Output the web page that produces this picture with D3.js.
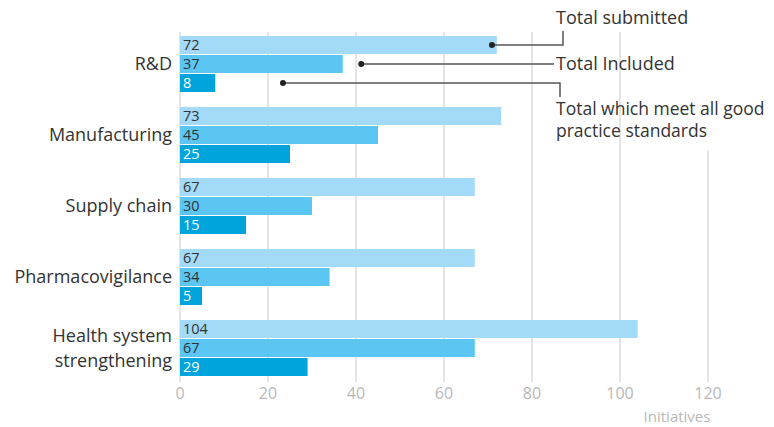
<!DOCTYPE html>
<html><head><meta charset="utf-8">
<script src="https://cdn.jsdelivr.net/npm/d3@7"></script>
<style>body{margin:0;background:#fff}svg{display:block;font-family:"Open Sans",sans-serif}</style>
</head><body>
<svg id="c" width="774" height="427"></svg>
<script>
const categories = ["R&D","Manufacturing","Supply chain","Pharmacovigilance","Health system strengthening"];
const categoryLines = [["R&D"],["Manufacturing"],["Supply chain"],["Pharmacovigilance"],["Health system","strengthening"]];
const seriesNames = ["Total submitted","Total Included","Total which meet all good practice standards"];
const submitted = [72,73,67,67,104];
const included = [37,45,30,34,67];
const meetStandards = [8,25,15,5,29];
const ticks = [0,20,40,60,80,100,120];
const axisTitle = "Initiatives";

const colors = ["#a3daf7","#5bc6f2","#00a4dc"];
const textColors = ["#333","#333","#fff"];
const series = [submitted, included, meetStandards];

const svg = d3.select("#c");
const x = d3.scaleLinear().domain([0,120]).range([180,708]);
const y0 = d3.scaleBand().domain(categories).range([36,391]).paddingInner(0).paddingOuter(0);
const bandH = 18, gap = 1;

// gridlines
svg.append("g").selectAll("line").data(ticks).join("line")
  .attr("x1",d=>x(d)).attr("x2",d=>x(d))
  .attr("y1",d=>d===120?150:32).attr("y2",382)
  .attr("stroke","#dcdcdc").attr("stroke-width",1.5);

// tick labels
svg.append("g").selectAll("text").data(ticks).join("text")
  .attr("x",d=>x(d)).attr("y",393).attr("dy","0.36em").attr("text-anchor","middle")
  .attr("font-size",16).attr("fill","#b8b8b8").text(d=>d);
svg.append("text").attr("x",677).attr("y",417).attr("dy","0.36em").attr("text-anchor","middle")
  .attr("font-size",15).attr("fill","#b8b8b8").text(axisTitle);

// bars
categories.forEach((c,i)=>{
  const top = y0(c);
  series.forEach((s,j)=>{
    const yy = top + j*(bandH+gap);
    svg.append("rect").attr("x",x(0)).attr("y",yy).attr("width",x(s[i])-x(0)).attr("height",bandH).attr("fill",colors[j]);
    svg.append("text").attr("x",x(0)+3).attr("y",yy+bandH/2).attr("dy","0.36em")
      .attr("font-size",14.5).attr("fill",textColors[j]).text(s[i]);
  });
  const lines = categoryLines[i];
  const cy = top + (3*bandH+2*gap)/2;
  lines.forEach((l,k)=>{
    svg.append("text").attr("x",172).attr("y",cy + (k-(lines.length-1)/2)*25).attr("dy","0.36em")
      .attr("text-anchor","end").attr("font-size",18).attr("fill","#333").text(l);
  });
});

// annotations
const t0 = y0(categories[0]);
const ann = svg.append("g");
const lc = "#555";
let yy = t0 + bandH/2;
ann.append("path").attr("d",`M${x(submitted[0]-1.1)},${yy}H563V31`).attr("fill","none").attr("stroke",lc).attr("stroke-width",1.5);
ann.append("circle").attr("cx",x(submitted[0]-1.1)).attr("cy",yy).attr("r",3).attr("fill","#222");
ann.append("text").attr("x",556).attr("y",18).attr("dy","0.36em").attr("font-size",18).attr("fill","#333").text(seriesNames[0]);
yy = t0 + bandH + gap + bandH/2;
ann.append("path").attr("d",`M${x(included[0]+4.2)},${yy}H554`).attr("fill","none").attr("stroke",lc).attr("stroke-width",1.5);
ann.append("circle").attr("cx",x(included[0]+4.2)).attr("cy",yy).attr("r",3).attr("fill","#222");
ann.append("text").attr("x",556).attr("y",yy).attr("dy","0.36em").attr("font-size",18).attr("fill","#333").text(seriesNames[1]);
yy = t0 + 2*(bandH+gap) + bandH/2;
ann.append("path").attr("d",`M${x(meetStandards[0]+15.4)},${yy}H560V97`).attr("fill","none").attr("stroke",lc).attr("stroke-width",1.5);
ann.append("circle").attr("cx",x(meetStandards[0]+15.4)).attr("cy",yy).attr("r",3).attr("fill","#222");
ann.append("text").attr("x",556).attr("y",109).attr("dy","0.36em").attr("font-size",17.5).attr("fill","#333").text("Total which meet all good");
ann.append("text").attr("x",556).attr("y",131).attr("dy","0.36em").attr("font-size",17.5).attr("fill","#333").text("practice standards");
</script>
</body></html>
